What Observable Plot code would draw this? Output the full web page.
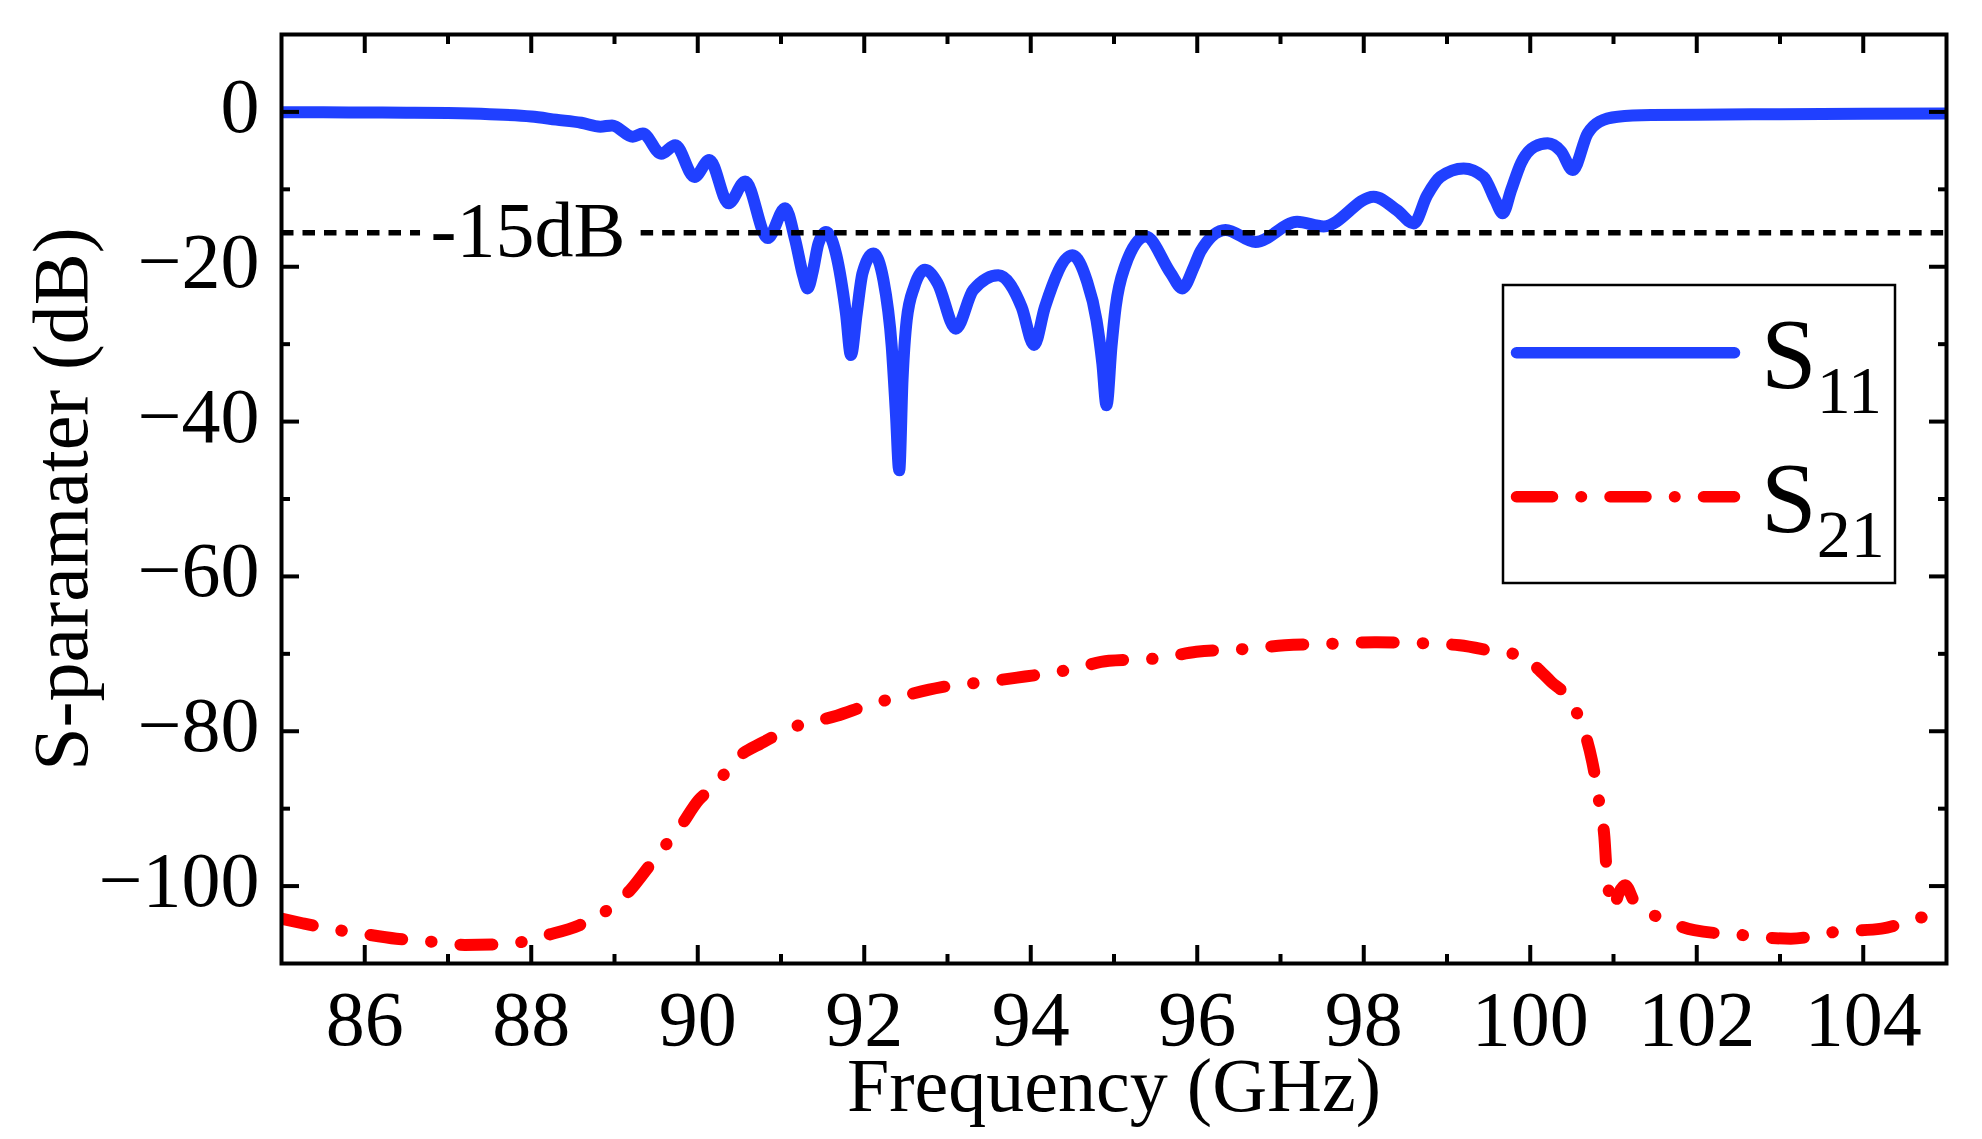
<!DOCTYPE html>
<html>
<head>
<meta charset="utf-8">
<script src="https://cdn.jsdelivr.net/npm/d3@7"></script>
<script src="https://cdn.jsdelivr.net/npm/@observablehq/plot@0.6"></script>
<style>
  html, body { margin: 0; padding: 0; background: #ffffff; }
  #chart svg { display: block; }
</style>
</head>
<body>
<div id="chart"></div>
<script>
// ---------- data ----------
const s11Freq = [85.0, 85.5, 86.0, 86.5, 87.0, 87.5, 88.0, 88.3, 88.6, 88.83, 88.97, 89.22, 89.34, 89.56, 89.73, 89.96, 90.14, 90.37, 90.57, 90.84, 91.05, 91.17, 91.27, 91.32, 91.38, 91.45, 91.54, 91.66, 91.78, 91.84, 91.91, 91.98, 92.11, 92.23, 92.33, 92.38, 92.42, 92.46, 92.51, 92.60, 92.73, 92.88, 93.10, 93.31, 93.61, 93.89, 94.04, 94.17, 94.50, 94.67, 94.79, 94.86, 94.91, 94.97, 95.02, 95.13, 95.38, 95.68, 95.82, 95.96, 96.04, 96.34, 96.70, 97.20, 97.52, 98.12, 98.40, 98.60, 98.76, 98.92, 99.20, 99.44, 99.58, 99.67, 99.77, 99.89, 100.05, 100.21, 100.37, 100.51, 100.69, 100.83, 101.05, 101.45, 102.0, 103.0, 104.0, 105.0];
const s11Db = [-0.05, -0.05, -0.08, -0.1, -0.15, -0.3, -0.6, -1.0, -1.4, -1.9, -1.75, -3.2, -2.8, -5.4, -4.3, -8.4, -6.2, -11.8, -9.0, -16.3, -12.45, -16.5, -21.3, -22.8, -20.7, -17.0, -15.5, -18.3, -26.0, -31.4, -26.0, -20.8, -18.3, -21.7, -30.3, -38.9, -46.3, -34.6, -26.9, -22.6, -20.4, -22.1, -28.0, -23.0, -21.1, -25.2, -30.1, -25.2, -18.5, -21.7, -26.9, -32.5, -37.9, -30.3, -25.2, -20.0, -16.1, -20.8, -22.8, -20.0, -18.0, -15.25, -16.8, -14.2, -14.8, -10.95, -12.7, -14.4, -10.8, -8.4, -7.3, -8.4, -11.4, -13.1, -10.1, -6.6, -4.5, -4.06, -5.1, -7.5, -2.77, -1.26, -0.62, -0.4, -0.35, -0.3, -0.25, -0.2];

const s21Freq = [85.0, 85.25, 85.52, 85.94, 86.38, 86.82, 87.2, 87.7, 88.2, 88.58, 88.86, 89.19, 89.41, 89.6, 89.79, 90.01, 90.21, 90.45, 90.79, 91.17, 91.67, 92.05, 92.41, 92.93, 93.48, 93.75, 94.44, 94.94, 95.51, 95.99, 96.54, 97.05, 97.59, 98.13, 98.64, 99.15, 99.63, 99.91, 100.09, 100.25, 100.45, 100.58, 100.67, 100.74, 100.80, 100.84, 100.89, 100.92, 101.00, 101.06, 101.14, 101.26, 101.58, 101.97, 102.52, 103.13, 103.68, 104.22, 104.73, 105.0];
const s21Db = [-104.2, -104.8, -105.4, -106.1, -106.8, -107.2, -107.6, -107.5, -106.3, -105.05, -103.5, -100.5, -97.5, -94.9, -92.35, -88.9, -87.0, -83.7, -81.4, -79.4, -78.0, -76.6, -75.6, -74.3, -73.6, -73.2, -72.1, -70.9, -70.6, -69.74, -69.4, -68.9, -68.7, -68.5, -68.6, -68.9, -69.8, -70.2, -71.9, -73.6, -75.6, -78.1, -80.7, -83.7, -87.2, -90.0, -93.6, -98.4, -102.9, -101.0, -99.9, -102.2, -104.2, -105.7, -106.3, -106.8, -105.9, -105.5, -104.0, -103.8];

const xDomain = [85, 105];
const yDomain = [-110, 10];
const xTicksMajor = [86, 88, 90, 92, 94, 96, 98, 100, 102, 104];
const xTicksMinor = [87, 89, 91, 93, 95, 97, 99, 101, 103];
const yTicksMajor = [0, -20, -40, -60, -80, -100];
const yTicksMinor = [-10, -30, -50, -70, -90];

const thresholdDb = -15.6;
const thresholdLabel = "-15dB";
const thresholdLabelFreq = 86.79;
const thresholdGap = [86.67, 89.32];

const seriesNames = ["S", "S"];
const seriesSubs = ["11", "21"];
const xLabel = "Frequency (GHz)";
const yLabel = "S-paramater (dB)";

// ---------- build ----------
const FONT = '"Liberation Serif", "Times New Roman", Times, serif';
const BLUE = "#2040ff";
const RED = "#ff0000";

const s11 = s11Freq.map((f, i) => ({f, db: s11Db[i]}));
const s21 = s21Freq.map((f, i) => ({f, db: s21Db[i]}));
const ruleSegs = [
  {x1: xDomain[0], x2: thresholdGap[0], y: thresholdDb},
  {x1: thresholdGap[1], x2: xDomain[1], y: thresholdDb}
];

const W = 1982, H = 1139;
const mL = 281, mR = 36, mT = 34, mB = 176;
const major = 18, minor = 9, tickW = 4;
const noText = () => "";

function tickAxisX(ticks, anchor, size) {
  return Plot.axisX(ticks, {anchor, tickSize: -size, tickPadding: 0, strokeWidth: tickW, tickFormat: noText, label: null});
}
function tickAxisY(ticks, anchor, size) {
  return Plot.axisY(ticks, {anchor, tickSize: -size, tickPadding: 0, strokeWidth: tickW, tickFormat: noText, label: null});
}

const chart = Plot.plot({
  width: W,
  height: H,
  marginLeft: mL,
  marginRight: mR,
  marginTop: mT,
  marginBottom: mB,
  x: {domain: xDomain, axis: null},
  y: {domain: yDomain, axis: null},
  style: {fontFamily: FONT, fontSize: "78px", background: "#ffffff", color: "#000000", overflow: "visible"},
  marks: [
    Plot.line(s11, {x: "f", y: "db", stroke: BLUE, strokeWidth: 12, curve: "monotone-x", strokeLinejoin: "round", strokeLinecap: "round", clip: true}),
    Plot.line(s21, {x: "f", y: "db", stroke: RED, strokeWidth: 12, curve: "monotone-x", strokeLinejoin: "round", strokeLinecap: "round", strokeDasharray: "32,29,0.5,29", clip: true}),
    Plot.ruleY(ruleSegs, {y: "y", x1: "x1", x2: "x2", stroke: "#000", strokeWidth: 5.5, strokeDasharray: "12.5,9"}),
    Plot.text([thresholdLabel], {x: thresholdLabelFreq, y: thresholdDb, text: d => d, textAnchor: "start", lineAnchor: "middle", fontSize: 78, dy: -2, fill: "#000"}),

    tickAxisX(xTicksMajor, "bottom", major),
    tickAxisX(xTicksMinor, "bottom", minor),
    tickAxisX(xTicksMajor, "top", major),
    tickAxisX(xTicksMinor, "top", minor),
    tickAxisY(yTicksMajor, "left", major),
    tickAxisY(yTicksMinor, "left", minor),
    tickAxisY(yTicksMajor, "right", major),
    tickAxisY(yTicksMinor, "right", minor),

    Plot.axisX(xTicksMajor, {anchor: "bottom", tickSize: 0, tickPadding: 26, fontSize: 78, label: null, color: "#000"}),
    Plot.axisY(yTicksMajor, {anchor: "left", tickSize: 0, tickPadding: 22, fontSize: 78, dy: -5, label: null, color: "#000"}),

    Plot.text([xLabel], {frameAnchor: "bottom", text: d => d, textAnchor: "middle", lineAnchor: "middle", dy: 123, fontSize: 76, fill: "#000"}),
    Plot.text([yLabel], {frameAnchor: "left", text: d => d, textAnchor: "middle", lineAnchor: "middle", rotate: -90, dx: -219, fontSize: 78, fill: "#000"}),

    Plot.frame({stroke: "#000", strokeWidth: 4})
  ]
});

// ---------- legend (box with line samples) ----------
const svg = d3.select(chart);
const lg = svg.append("g").attr("font-family", FONT).attr("text-anchor", "start");
lg.append("rect")
  .attr("x", 1503).attr("y", 285).attr("width", 392).attr("height", 298)
  .attr("fill", "#fff").attr("stroke", "#000").attr("stroke-width", 2.5);
const legendRows = [
  {y: 352.7, stroke: BLUE, dash: null},
  {y: 496.7, stroke: RED, dash: "36,28.5,0.5,28.5"}
];
legendRows.forEach((r, i) => {
  const ln = lg.append("line")
    .attr("x1", 1516.5).attr("x2", 1734.5).attr("y1", r.y).attr("y2", r.y)
    .attr("stroke", r.stroke).attr("stroke-width", 11.5).attr("stroke-linecap", "round");
  if (r.dash) ln.attr("stroke-dasharray", r.dash);
  const t = lg.append("text").attr("x", 1761).attr("y", r.y + 34).attr("font-size", 100)
    .attr("fill", "#000").attr("text-anchor", "start");
  t.append("tspan").text(seriesNames[i]);
  t.append("tspan").attr("font-size", 68).attr("dy", 26.7).text(seriesSubs[i]);
});

document.getElementById("chart").appendChild(chart);
</script>
</body>
</html>
